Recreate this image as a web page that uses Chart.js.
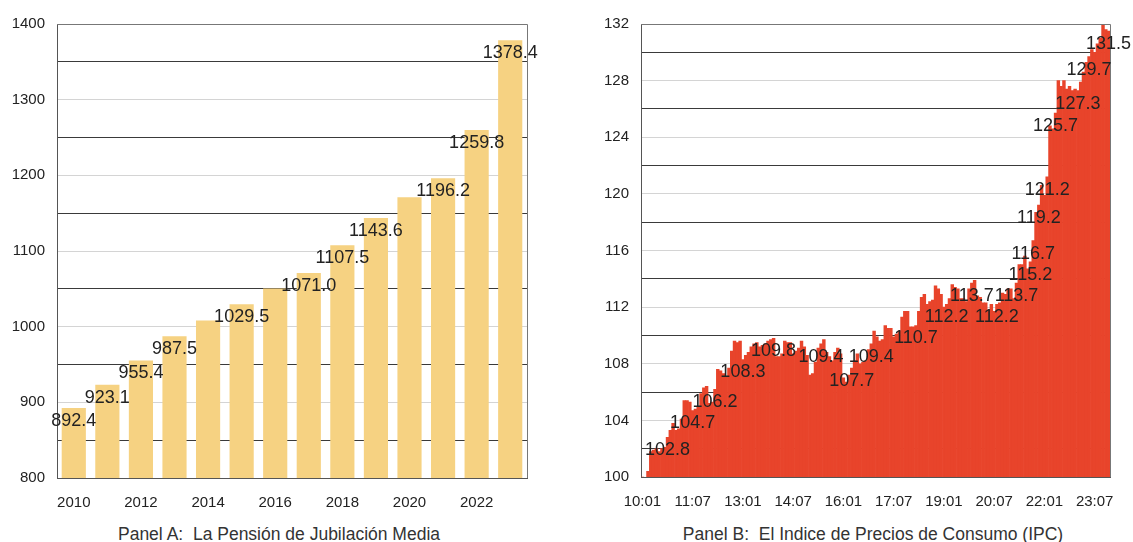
<!DOCTYPE html>
<html><head><meta charset="utf-8">
<script src="https://cdn.jsdelivr.net/npm/chart.js@4/dist/chart.umd.min.js"></script>
<style>
body{margin:0;background:#fff;width:1133px;height:542px;position:relative;overflow:hidden;font-family:"Liberation Sans",Arial,sans-serif;}
#wa{position:absolute;left:0;top:0;width:565px;height:510px;}
#wb{position:absolute;left:575px;top:0;width:558px;height:510px;}
.cap{position:absolute;top:524px;font-size:17.5px;color:#333;white-space:pre;transform:translateX(-50%);}
</style></head><body>
<div id="wa"><canvas id="ca"></canvas></div>
<div id="wb"><canvas id="cb"></canvas></div>
<div class="cap" style="left:279px">Panel A:  La Pensión de Jubilación Media</div>
<div class="cap" style="left:873px">Panel B:  El Indice de Precios de Consumo (IPC)</div>
<script>
// ---- Panel A data ----
const pensionYears = ['2010','2011','2012','2013','2014','2015','2016','2017','2018','2019','2020','2021','2022','2023'];
const pensionValues = [892.4, 923.1, 955.4, 987.5, 1008.0, 1029.5, 1050.6, 1071.0, 1107.5, 1143.6, 1171.0, 1196.2, 1259.8, 1378.4];
const pensionLabelYears = ['2010','2011','2012','2013','2015','2017','2018','2019','2021','2022','2023'];
const pensionLabelValues = [892.4, 923.1, 955.4, 987.5, 1029.5, 1071.0, 1107.5, 1143.6, 1196.2, 1259.8, 1378.4];
const pensionTicks = [800, 900, 1000, 1100, 1200, 1300, 1400];

// ---- Panel B data (monthly IPC, 2010:01 = 100) ----
const ipcYears = ['10','11','12','13','14','15','16','17','18','19','20','21','22','23'];
const ipcMonths = ['01','02','03','04','05','06','07','08','09','10','11','12'];
const ipc2010 = [100.0, 99.8, 100.4, 101.8, 101.9, 102.0, 101.8, 102.0, 102.1, 102.8, 103.3, 103.8];
const ipc2011 = [103.3, 103.4, 104.1, 105.4, 105.4, 105.3, 104.7, 104.8, 105.0, 105.9, 106.3, 106.4];
const ipc2012 = [105.2, 105.3, 106.2, 107.6, 107.5, 107.3, 107.1, 107.7, 108.9, 109.6, 109.5, 109.6];
const ipc2013 = [108.3, 108.6, 108.8, 109.2, 109.4, 109.5, 109.2, 109.3, 109.4, 109.6, 109.7, 109.8];
const ipc2014 = [108.5, 108.5, 108.7, 109.6, 109.5, 109.5, 108.7, 108.9, 109.1, 109.6, 109.2, 108.6];
const ipc2015 = [107.2, 107.3, 108.1, 109.1, 109.4, 109.7, 108.8, 108.5, 108.2, 108.8, 109.1, 108.7];
const ipc2016 = [107.0, 106.7, 107.2, 107.7, 108.2, 108.7, 108.0, 108.1, 108.2, 109.0, 109.4, 110.3];
const ipc2017 = [109.9, 109.6, 109.7, 110.7, 110.5, 110.5, 109.9, 110.1, 110.3, 111.3, 111.7, 111.7];
const ipc2018 = [110.6, 110.6, 110.7, 111.7, 112.7, 112.9, 112.2, 112.4, 112.5, 113.5, 113.3, 112.9];
const ipc2019 = [112.0, 112.2, 112.6, 113.6, 113.4, 113.3, 112.6, 112.6, 112.4, 113.3, 113.7, 113.9];
const ipc2020 = [112.8, 112.7, 112.3, 112.3, 111.8, 112.2, 111.7, 112.2, 112.3, 113.0, 112.9, 113.3];
const ipc2021 = [113.3, 112.6, 113.7, 115.0, 115.0, 115.6, 114.7, 115.2, 116.7, 118.7, 119.2, 120.6];
const ipc2022 = [119.9, 121.2, 124.8, 124.6, 125.7, 128.0, 127.6, 128.0, 127.4, 127.6, 127.3, 127.4];
const ipc2023 = [127.3, 127.9, 128.6, 129.3, 129.7, 130.2, 130.0, 130.6, 131.0, 131.9, 131.6, 131.5];
const ipcTickLabels = ['10:01','11:07','13:01','14:07','16:01','17:07','19:01','20:07','22:01','23:07'];
const ipcLabelMonths = ['10:10','11:07','12:03','13:01','13:12','15:05','16:04','16:11','18:03','19:02','19:11','20:08','21:03','21:08','21:09','21:11','22:02','22:05','23:01','23:05','23:12'];
const ipcLabelValues = [102.8, 104.7, 106.2, 108.3, 109.8, 109.4, 107.7, 109.4, 110.7, 112.2, 113.7, 112.2, 113.7, 115.2, 116.7, 119.2, 121.2, 125.7, 127.3, 129.7, 131.5];
const ipcTicks = [100, 104, 108, 112, 116, 120, 124, 128, 132];

const ipcCategories = [];
ipcYears.forEach(y => ipcMonths.forEach(m => ipcCategories.push(y + ':' + m)));
const ipcValues = [].concat(ipc2010, ipc2011, ipc2012, ipc2013, ipc2014, ipc2015, ipc2016,
  ipc2017, ipc2018, ipc2019, ipc2020, ipc2021, ipc2022, ipc2023);

// ---- styling / plugins ----
const FONT = '"Liberation Sans", Arial, sans-serif';
Chart.defaults.font.family = FONT;
Chart.defaults.color = '#222';

const framePlugin = {
  id: 'frame',
  afterDatasetsDraw(chart) {
    const a = chart.chartArea, c = chart.ctx;
    c.save();
    c.strokeStyle = '#777';
    c.lineWidth = 1;
    c.beginPath();
    c.moveTo(a.left, a.top + 0.5); c.lineTo(a.right + 0.5, a.top + 0.5);
    c.lineTo(a.right + 0.5, a.bottom);
    c.stroke();
    c.restore();
  }
};

function valueLabelPlugin(cats, vals, fmt) {
  return {
    id: 'vlabels',
    afterDatasetsDraw(chart) {
      const c = chart.ctx, xs = chart.scales.x, ys = chart.scales.y;
      c.save();
      c.font = '18px ' + FONT;
      c.fillStyle = '#222';
      c.textAlign = 'center';
      c.textBaseline = 'middle';
      cats.forEach((cat, k) => {
        const x = xs.getPixelForValue(xs.getLabels().indexOf(cat));
        const y = ys.getPixelForValue(vals[k]) + 13;
        c.fillText(fmt(vals[k]), x, y);
      });
      c.restore();
    }
  };
}

function yAxis(min, max, step, labelled, width, light) {
  return {
    min: min, max: max,
    afterFit(s) { s.width = width; },
    afterBuildTicks(s) {
      const t = [];
      for (let v = min; v <= max + 1e-9; v += step) t.push({ value: v });
      s.ticks = t;
    },
    ticks: {
      padding: 12,
      font: { size: 15 },
      color: '#222',
      callback: v => labelled.includes(v) ? String(v) : ''
    },
    grid: {
      drawTicks: false,
      color: ctx => labelled.includes(ctx.tick.value) ? light : '#3a3a3a',
      lineWidth: 1
    },
    border: { display: true, color: '#555', width: 1 }
  };
}

// Panel A
new Chart(document.getElementById('ca'), {
  type: 'bar',
  data: {
    labels: pensionYears,
    datasets: [{ data: pensionValues, backgroundColor: '#f6d282', borderWidth: 0,
      barPercentage: 0.72, categoryPercentage: 1.0 }]
  },
  options: {
    responsive: true, maintainAspectRatio: false, animation: false,
    layout: { padding: { left: 0, right: 38, top: 24, bottom: 0 } },
    plugins: { legend: { display: false }, tooltip: { enabled: false } },
    scales: {
      x: {
        afterFit(s) { s.height = 32; },
        grid: { display: false },
        border: { display: true, color: '#555' },
        ticks: { autoSkip: false, maxRotation: 0, padding: 8, font: { size: 15 }, color: '#222',
          callback: (v, i) => (i % 2 === 0 ? pensionYears[i] : '') }
      },
      y: yAxis(800, 1400, 50, pensionTicks, 57, '#d4d4d4')
    }
  },
  plugins: [framePlugin, valueLabelPlugin(pensionLabelYears, pensionLabelValues, v => v.toFixed(1))]
});

// Panel B
new Chart(document.getElementById('cb'), {
  type: 'bar',
  data: {
    labels: ipcCategories,
    datasets: [{ data: ipcValues, backgroundColor: '#e8442b', borderWidth: 0,
      barPercentage: 1.0, categoryPercentage: 1.0 }]
  },
  options: {
    responsive: true, maintainAspectRatio: false, animation: false,
    layout: { padding: { left: 0, right: 23, top: 24, bottom: 0 } },
    plugins: { legend: { display: false }, tooltip: { enabled: false } },
    scales: {
      x: {
        afterFit(s) { s.height = 33; },
        grid: { display: false },
        border: { display: true, color: '#555' },
        ticks: { autoSkip: false, maxRotation: 0, minRotation: 0, padding: 8, font: { size: 15 }, color: '#222',
          callback: (v, i) => (ipcTickLabels.includes(ipcCategories[i]) ? ipcCategories[i] : '') }
      },
      y: yAxis(100, 132, 2, ipcTicks, 66, '#d4d4d4')
    }
  },
  plugins: [framePlugin, valueLabelPlugin(ipcLabelMonths, ipcLabelValues, v => v.toFixed(1))]
});
</script>
</body></html>
